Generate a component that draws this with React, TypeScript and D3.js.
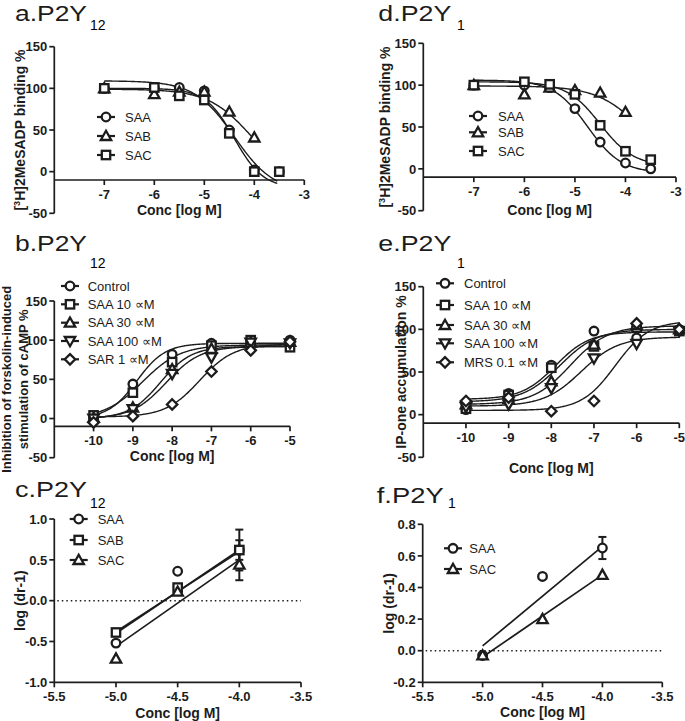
import React from "react";
import * as d3 from "d3";

const INK = "#1c1c1c";
const FONT = "Liberation Sans, Arial, Helvetica, sans-serif";

// ---------- Panel a: P2Y12 binding ----------
const aDose = [-7, -6, -5.5, -5, -4.5, -4, -3.5];
const aSAA = [100, 100, 101, 97, 50, 2, 0];
const aSAB = [100, 93, 96, 96, 72, 41, null];
const aSAC = [100, 101, 91, 86, 46, 0, 0];
// fit params: [bottom, top, logEC50, hill]  (negative hill = descending)
const aFitSAA = [-20, 100, -4.4, -1.5];
const aFitSAB = [-15, 99, -4.05, -1];
const aFitSAC = [-25, 109, -4.4, -1.1];

// ---------- Panel d: P2Y1 binding ----------
const dDose = [-7, -6, -5.5, -5, -4.5, -4, -3.5];
const dSAA = [100, 100, 97, 72, 32, 7, 0];
const dSAB = [100, 89, 97, 94, 91, 68, null];
const dSAC = [100, 104, 101, 89, 52, 21, 11];
const dFitSAA = [-5, 106, -4.75, -1.3];
const dFitSAB = [0, 99, -3.7, -1];
const dFitSAC = [3, 104, -4.5, -1.3];

// ---------- Panel b: P2Y12 cAMP ----------
const bDose = [-10, -9, -8, -7, -6, -5];
const bControl = [2, 44, 82, 96, 97, 100];
const bSAA10 = [4, 33, 72, 93, 100, 91];
const bSAA30 = [1, 14, 63, 89, 97, 98];
const bSAA100 = [0, 12, 57, 78, 97, 96];
const bSAR1 = [-5, 3, 18, 60, 87, 98];
const bFitControl = [0, 96, -8.9, 1.2];
const bFitSAA10 = [0, 94, -8.75, 0.9];
const bFitSAA30 = [0, 92, -8.3, 1.1];
const bFitSAA100 = [0, 92, -8.15, 1];
const bFitSAR1 = [2, 95, -7.3, 1];

// ---------- Panel e: P2Y1 IP-one ----------
const eDose = [-10, -9, -8, -7, -6, -5];
const eControl = [6, 25, 58, 98, 90, 100];
const eSAA10 = [7, 23, 55, 80, 102, 98];
const eSAA30 = [12, 18, 39, 82, 105, 100];
const eSAA100 = [9, 12, 31, 66, 83, 98];
const eMRS = [16, 20, 4, 16, 107, 100];
const eFitControl = [18, 97, -7.9, 1.1];
const eFitSAA10 = [15, 100, -7.8, 1];
const eFitSAA30 = [12, 104, -7.55, 1];
const eFitSAA100 = [10, 91, -7.3, 1];
const eFitMRS = [5, 110, -6.5, 1.1];

// ---------- Panel c: P2Y12 Schild ----------
const cDose = [-5, -4.5, -4];
const cSAA = [-0.52, 0.36, 0.62];
const cSAB = [-0.39, 0.16, 0.62];
const cSAC = [-0.71, 0.11, 0.44];
const cErrSAA = [null, null, 0.25];
const cErrSAB = [null, null, 0.12];
const cErrSAC = [null, null, 0.19];
// regression line end points [x1, y1, x2, y2]
const cLineSAA = [-5, -0.4, -4, 0.62];
const cLineSAB = [-5, -0.38, -4, 0.6];
const cLineSAC = [-5, -0.56, -4, 0.5];

// ---------- Panel f: P2Y1 Schild ----------
const fDose = [-5, -4.5, -4];
const fSAA = [-0.03, 0.47, 0.65];
const fSAC = [-0.03, 0.2, 0.48];
const fErrSAA = [null, null, 0.07];
const fLineSAA = [-5, 0.03, -4, 0.66];
const fLineSAC = [-5, -0.04, -4, 0.48];

// tick values
const bindXTicks = [-7, -6, -5, -4, -3];
const funcXTicks = [-10, -9, -8, -7, -6, -5];
const pctYTicks = [150, 100, 50, 0, -50];
const schildXTicks = [-5.5, -5, -4.5, -4, -3.5];
const cYTicks = [1, 0.5, 0, -0.5, -1];
const fYTicks = [0.8, 0.6, 0.4, 0.2, 0, -0.2];

type Series = {
  name: string;
  shape: string;
  xs: number[];
  ys: (number | null)[];
  err?: (number | null)[];
  fit?: number[];
  fitRange?: [number, number];
  line?: number[];
};

function Marker({ shape, x, y }: { shape: string; x: number; y: number }) {
  const common = { fill: "white", stroke: INK, strokeWidth: 2.3 };
  if (shape === "circle") return <circle cx={x} cy={y} r={4.3} {...common} />;
  if (shape === "square") return <rect x={x - 4.2} y={y - 4.2} width={8.4} height={8.4} {...common} />;
  if (shape === "triangle")
    return <polygon points={`${x},${y - 5.2} ${x + 5.2},${y + 4} ${x - 5.2},${y + 4}`} {...common} />;
  if (shape === "down")
    return <polygon points={`${x},${y + 5.2} ${x + 5.2},${y - 4} ${x - 5.2},${y - 4}`} {...common} />;
  return <polygon points={`${x},${y - 5.2} ${x + 5.2},${y} ${x},${y + 5.2} ${x - 5.2},${y}`} {...common} />;
}

function logistic(p: number[], x: number) {
  const [b, t, c, h] = p;
  return b + (t - b) / (1 + Math.pow(10, (c - x) * h));
}

type PanelCfg = {
  xRange: [number, number];
  xDomain: [number, number];
  yRange: [number, number];
  yDomain: [number, number];
  xAxisAt: number;
  xTicks: number[];
  yTicks: number[];
  fmtX: (v: number) => string;
  fmtY: (v: number) => string;
  title: string;
  titleLen: number;
  sub: string;
  titlePos: [number, number];
  subPos: [number, number];
  xLabelY: number;
  yLabel: React.ReactNode[];
  yLabelX: number[];
  yLabelSize: number;
  legendSym: number;
  legendText: number;
  legendRows: number[];
  series: Series[];
  zeroLine?: boolean;
};

function Panel({ p }: { p: PanelCfg }) {
  const x = d3.scaleLinear().domain(p.xDomain).range(p.xRange);
  const y = d3.scaleLinear().domain(p.yDomain).range(p.yRange);
  const ax = y(p.xAxisAt);
  const yx = p.xRange[0];
  const cy = (p.yRange[0] + p.yRange[1]) / 2;
  const cx = (p.xRange[0] + p.xRange[1]) / 2;
  const line = d3
    .line<[number, number]>()
    .x((d) => x(d[0]))
    .y((d) => y(d[1]));
  return (
    <g>
      {/* title */}
      <text
        x={p.titlePos[0]}
        y={p.titlePos[1]}
        fontSize={22}
        fontFamily={FONT}
        fill={INK}
        textLength={p.titleLen}
        lengthAdjust="spacingAndGlyphs"
      >
        {p.title}
      </text>
      <text x={p.subPos[0]} y={p.subPos[1]} fontSize={14} fontFamily={FONT} fill="#000">
        {p.sub}
      </text>
      {/* zero dotted line */}
      {p.zeroLine && (
        <line
          x1={x(p.xDomain[0]) + 3}
          x2={x(p.xDomain[1])}
          y1={y(0)}
          y2={y(0)}
          stroke={INK}
          strokeWidth={1.5}
          strokeDasharray="1.5,3"
        />
      )}
      {/* axes */}
      <line x1={yx} x2={yx} y1={p.yRange[1]} y2={p.yRange[0]} stroke={INK} strokeWidth={1.7} />
      <line x1={yx} x2={p.xRange[1]} y1={ax} y2={ax} stroke={INK} strokeWidth={1.7} />
      {p.yTicks.map((t) => (
        <g key={"y" + t}>
          <line x1={yx - 5} x2={yx} y1={y(t)} y2={y(t)} stroke={INK} strokeWidth={1.7} />
          <text
            x={yx - 7}
            y={y(t)}
            dy="0.36em"
            textAnchor="end"
            fontSize={13}
            fontWeight="bold"
            fontFamily={FONT}
            fill={INK}
          >
            {p.fmtY(t)}
          </text>
        </g>
      ))}
      {p.xTicks.map((t) => (
        <g key={"x" + t}>
          <line x1={x(t)} x2={x(t)} y1={ax} y2={ax + 5} stroke={INK} strokeWidth={1.7} />
          <text
            x={x(t)}
            y={ax + 19}
            textAnchor="middle"
            fontSize={13}
            fontWeight="bold"
            fontFamily={FONT}
            fill={INK}
          >
            {p.fmtX(t)}
          </text>
        </g>
      ))}
      {/* axis labels */}
      <text
        x={cx}
        y={p.xLabelY}
        textAnchor="middle"
        fontSize={14}
        fontWeight="bold"
        fontFamily={FONT}
        fill={INK}
      >
        Conc [log M]
      </text>
      {p.yLabel.map((l, i) => (
        <text
          key={i}
          transform={`translate(${p.yLabelX[i]},${cy}) rotate(-90)`}
          textAnchor="middle"
          dy="0.35em"
          fontSize={p.yLabelSize}
          fontWeight="bold"
          fontFamily={FONT}
          fill={INK}
        >
          {l}
        </text>
      ))}
      {/* fitted curves / regression lines */}
      {p.series.map((s, i) => {
        if (s.fit && s.fitRange) {
          const pts: [number, number][] = d3
            .range(s.fitRange[0], s.fitRange[1] + 0.001, 0.02)
            .map((v) => [v, logistic(s.fit as number[], v)]);
          return <path key={"c" + i} d={line(pts) || ""} fill="none" stroke={INK} strokeWidth={1.4} />;
        }
        if (s.line) {
          const l = s.line;
          return (
            <line
              key={"c" + i}
              x1={x(l[0])}
              y1={y(l[1])}
              x2={x(l[2])}
              y2={y(l[3])}
              stroke={INK}
              strokeWidth={1.7}
            />
          );
        }
        return null;
      })}
      {/* error bars */}
      {p.series.map((s, i) =>
        (s.err || []).map((e, j) => {
          const v = s.ys[j];
          if (e == null || v == null) return null;
          const px = x(s.xs[j]);
          return (
            <g key={"e" + i + "-" + j}>
              <line x1={px} x2={px} y1={y(v - e)} y2={y(v + e)} stroke={INK} strokeWidth={2} />
              <line x1={px - 4} x2={px + 4} y1={y(v - e)} y2={y(v - e)} stroke={INK} strokeWidth={2} />
              <line x1={px - 4} x2={px + 4} y1={y(v + e)} y2={y(v + e)} stroke={INK} strokeWidth={2} />
            </g>
          );
        })
      )}
      {/* markers */}
      {p.series.map((s, i) =>
        s.ys.map((v, j) =>
          v == null ? null : <Marker key={"m" + i + "-" + j} shape={s.shape} x={x(s.xs[j])} y={y(v)} />
        )
      )}
      {/* legend */}
      {p.series.map((s, i) => (
        <g key={"l" + i}>
          <line
            x1={p.legendSym - 9}
            x2={p.legendSym + 9}
            y1={p.legendRows[i]}
            y2={p.legendRows[i]}
            stroke={INK}
            strokeWidth={2.2}
          />
          <Marker shape={s.shape} x={p.legendSym} y={p.legendRows[i]} />
          <text
            x={p.legendText}
            y={p.legendRows[i]}
            dy="0.36em"
            fontSize={13}
            fontFamily={FONT}
            fill={INK}
          >
            {s.name}
          </text>
        </g>
      ))}
    </g>
  );
}

const fmtInt = (v: number) => String(v);
const fmt1 = (v: number) => v.toFixed(1);

const bindLabel = (
  <>
    [<tspan dy={-5} fontSize={9}>3</tspan>
    <tspan dy={5}>H]2MeSADP binding %</tspan>
  </>
);

const panels: PanelCfg[] = [
  {
    xRange: [54.3, 304.3],
    xDomain: [-8, -3],
    yRange: [213.3, 46.7],
    yDomain: [-50, 150],
    xAxisAt: -10,
    xTicks: bindXTicks,
    yTicks: pctYTicks,
    fmtX: fmtInt,
    fmtY: fmtInt,
    title: "a.P2Y",
    titleLen: 72,
    sub: "12",
    titlePos: [15, 20.7],
    subPos: [90, 29.5],
    xLabelY: 215,
    yLabel: [bindLabel],
    yLabelX: [20],
    yLabelSize: 14,
    legendSym: 106,
    legendText: 125,
    legendRows: [117, 136, 155],
    series: [
      { name: "SAA", shape: "circle", xs: aDose, ys: aSAA, fit: aFitSAA, fitRange: [-7, -3.53] },
      { name: "SAB", shape: "triangle", xs: aDose, ys: aSAB, fit: aFitSAB, fitRange: [-7, -4] },
      { name: "SAC", shape: "square", xs: aDose, ys: aSAC, fit: aFitSAC, fitRange: [-7, -3.53] },
    ],
  },
  {
    xRange: [423.3, 676],
    xDomain: [-8, -3],
    yRange: [210.7, 43.3],
    yDomain: [-50, 150],
    xAxisAt: -10,
    xTicks: bindXTicks,
    yTicks: pctYTicks,
    fmtX: fmtInt,
    fmtY: fmtInt,
    title: "d.P2Y",
    titleLen: 73,
    sub: "1",
    titlePos: [378.3, 20.7],
    subPos: [457, 30],
    xLabelY: 215,
    yLabel: [bindLabel],
    yLabelX: [385],
    yLabelSize: 14,
    legendSym: 478,
    legendText: 498,
    legendRows: [116, 132.3, 151],
    series: [
      { name: "SAA", shape: "circle", xs: dDose, ys: dSAA, fit: dFitSAA, fitRange: [-7, -3.5] },
      { name: "SAB", shape: "triangle", xs: dDose, ys: dSAB, fit: dFitSAB, fitRange: [-7, -4] },
      { name: "SAC", shape: "square", xs: dDose, ys: dSAC, fit: dFitSAC, fitRange: [-7, -3.5] },
    ],
  },
  {
    xRange: [54.3, 290],
    xDomain: [-11, -5],
    yRange: [457.7, 301],
    yDomain: [-50, 150],
    xAxisAt: -10,
    xTicks: funcXTicks,
    yTicks: pctYTicks,
    fmtX: fmtInt,
    fmtY: fmtInt,
    title: "b.P2Y",
    titleLen: 72,
    sub: "12",
    titlePos: [15, 251],
    subPos: [90, 268.3],
    xLabelY: 461,
    yLabel: ["Inhibition of forskolin-induced", "stimulation of cAMP %"],
    yLabelX: [6, 23.5],
    yLabelSize: 13,
    legendSym: 70,
    legendText: 87.7,
    legendRows: [286, 304.3, 322.7, 341, 359.3],
    series: [
      { name: "Control", shape: "circle", xs: bDose, ys: bControl, fit: bFitControl, fitRange: [-10, -5] },
      { name: "SAA 10 \u221DM", shape: "square", xs: bDose, ys: bSAA10, fit: bFitSAA10, fitRange: [-10, -5] },
      { name: "SAA 30 \u221DM", shape: "triangle", xs: bDose, ys: bSAA30, fit: bFitSAA30, fitRange: [-10, -5] },
      { name: "SAA 100 \u221DM", shape: "down", xs: bDose, ys: bSAA100, fit: bFitSAA100, fitRange: [-10, -5] },
      { name: "SAR 1 \u221DM", shape: "diamond", xs: bDose, ys: bSAR1, fit: bFitSAR1, fitRange: [-10, -5] },
    ],
  },
  {
    xRange: [423.3, 679.3],
    xDomain: [-11, -5],
    yRange: [457.3, 286.7],
    yDomain: [-50, 150],
    xAxisAt: -10,
    xTicks: funcXTicks,
    yTicks: pctYTicks,
    fmtX: fmtInt,
    fmtY: fmtInt,
    title: "e.P2Y",
    titleLen: 73,
    sub: "1",
    titlePos: [378.3, 251],
    subPos: [457, 268],
    xLabelY: 473.3,
    yLabel: ["IP-one accumulation %"],
    yLabelX: [401.5],
    yLabelSize: 14,
    legendSym: 445,
    legendText: 464,
    legendRows: [283.3, 305, 325, 343.3, 362.3],
    series: [
      { name: "Control", shape: "circle", xs: eDose, ys: eControl, fit: eFitControl, fitRange: [-10, -5] },
      { name: "SAA 10 \u221DM", shape: "square", xs: eDose, ys: eSAA10, fit: eFitSAA10, fitRange: [-10, -5] },
      { name: "SAA 30 \u221DM", shape: "triangle", xs: eDose, ys: eSAA30, fit: eFitSAA30, fitRange: [-10, -5] },
      { name: "SAA 100 \u221DM", shape: "down", xs: eDose, ys: eSAA100, fit: eFitSAA100, fitRange: [-10, -5] },
      { name: "MRS 0.1 \u221DM", shape: "diamond", xs: eDose, ys: eMRS, fit: eFitMRS, fitRange: [-10, -5] },
    ],
  },
  {
    xRange: [54.3, 301],
    xDomain: [-5.5, -3.5],
    yRange: [682.3, 519],
    yDomain: [-1, 1],
    xAxisAt: -1,
    xTicks: schildXTicks,
    yTicks: cYTicks,
    fmtX: fmt1,
    fmtY: fmt1,
    title: "c.P2Y",
    titleLen: 72,
    sub: "12",
    titlePos: [15, 496.7],
    subPos: [90, 508.3],
    xLabelY: 718.3,
    yLabel: ["log (dr-1)"],
    yLabelX: [20],
    yLabelSize: 14,
    legendSym: 78.7,
    legendText: 97.7,
    legendRows: [519, 540, 560],
    zeroLine: true,
    series: [
      { name: "SAA", shape: "circle", xs: cDose, ys: cSAA, err: cErrSAA, line: cLineSAA },
      { name: "SAB", shape: "square", xs: cDose, ys: cSAB, err: cErrSAB, line: cLineSAB },
      { name: "SAC", shape: "triangle", xs: cDose, ys: cSAC, err: cErrSAC, line: cLineSAC },
    ],
  },
  {
    xRange: [422.7, 662.3],
    xDomain: [-5.5, -3.5],
    yRange: [682.3, 524.3],
    yDomain: [-0.2, 0.8],
    xAxisAt: -0.2,
    xTicks: schildXTicks,
    yTicks: fYTicks,
    fmtX: fmt1,
    fmtY: fmt1,
    title: "f.P2Y",
    titleLen: 67,
    sub: "1",
    titlePos: [376.7, 503.3],
    subPos: [448, 507.5],
    xLabelY: 716.7,
    yLabel: ["log (dr-1)"],
    yLabelX: [389],
    yLabelSize: 14,
    legendSym: 453,
    legendText: 469.3,
    legendRows: [548.3, 569],
    zeroLine: true,
    series: [
      { name: "SAA", shape: "circle", xs: fDose, ys: fSAA, err: fErrSAA, line: fLineSAA },
      { name: "SAC", shape: "triangle", xs: fDose, ys: fSAC, line: fLineSAC },
    ],
  },
];

export default function App() {
  return (
    <svg
      width={685}
      height={721}
      viewBox="0 0 685 721"
      style={{ position: "absolute", left: 0, top: 0, background: "white" }}
    >
      <rect width={685} height={721} fill="white" />
      {panels.map((p, i) => (
        <Panel key={i} p={p} />
      ))}
    </svg>
  );
}
